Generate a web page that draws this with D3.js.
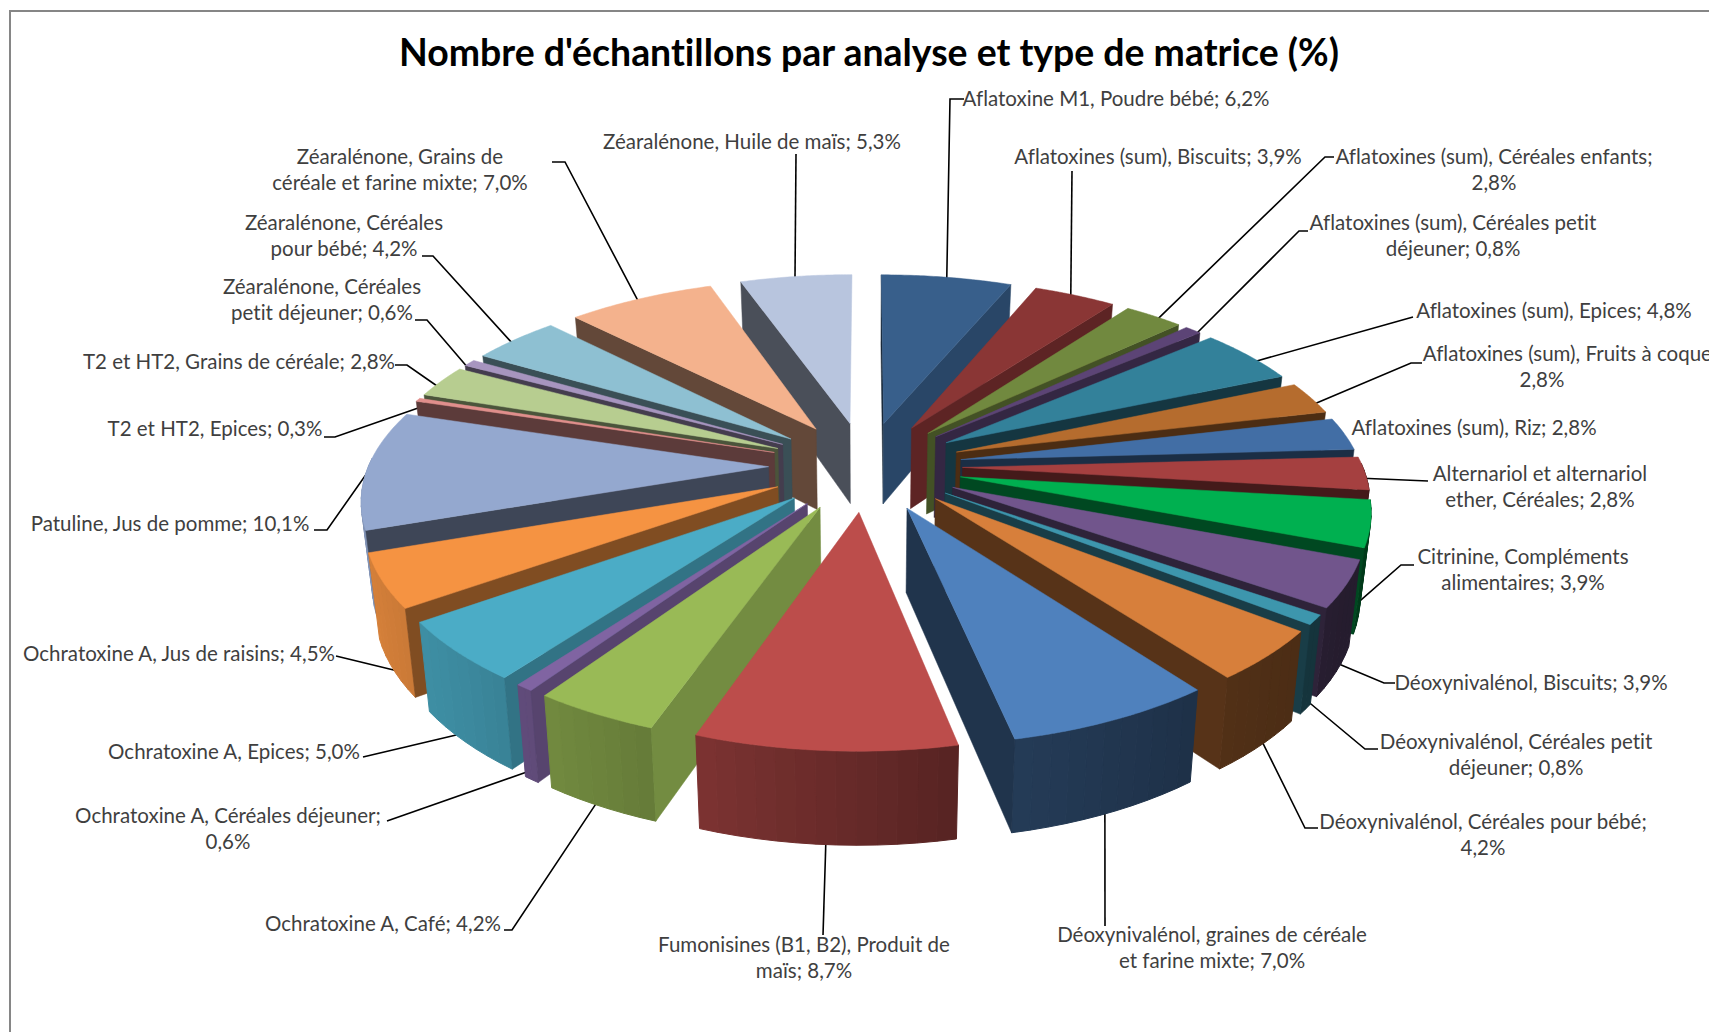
<!DOCTYPE html>
<html>
<head>
<meta charset="utf-8">
<title>Nombre d'échantillons par analyse et type de matrice</title>
<style>
  html, body { margin: 0; background: #fff; overflow: hidden; }
  text { font-family: Lato, "Open Sans", sans-serif; font-variant-ligatures: none; }
</style>
</head>
<body>
<svg width="1709" height="1032"></svg>
<script src="https://d3js.org/d3.v7.min.js"></script>
<script>
var title = "Nombre d'échantillons par analyse et type de matrice (%)";

var categories = [
    "Aflatoxine M1, Poudre bébé", "Aflatoxines (sum), Biscuits", "Aflatoxines (sum), Céréales enfants",
    "Aflatoxines (sum), Céréales petit déjeuner", "Aflatoxines (sum), Epices", "Aflatoxines (sum), Fruits à coque",
    "Aflatoxines (sum), Riz", "Alternariol et alternariol ether, Céréales", "Citrinine, Compléments alimentaires",
    "Déoxynivalénol, Biscuits", "Déoxynivalénol, Céréales petit déjeuner", "Déoxynivalénol, Céréales pour bébé",
    "Déoxynivalénol, graines de céréale et farine mixte", "Fumonisines (B1, B2), Produit de maïs", "Ochratoxine A, Café",
    "Ochratoxine A, Céréales déjeuner", "Ochratoxine A, Epices", "Ochratoxine A, Jus de raisins",
    "Patuline, Jus de pomme", "T2 et HT2, Epices", "T2 et HT2, Grains de céréale",
    "Zéaralénone, Céréales petit déjeuner", "Zéaralénone, Céréales pour bébé", "Zéaralénone, Grains de céréale et farine mixte",
    "Zéaralénone, Huile de maïs"
];
var values = [6.2, 3.9, 2.8, 0.8, 4.8, 2.8, 2.8, 2.8, 3.9, 3.9, 0.8, 4.2, 7.0, 8.7, 4.2, 0.6, 5.0, 4.5, 10.1, 0.3, 2.8, 0.6, 4.2, 7.0, 5.3];
var colors = [
    "#385f8b", "#8a3635", "#71893f", "#5c4476", "#33819a", "#b56c2e", "#426ea5", "#a54040", "#00b050",
    "#71558c", "#3d96ad", "#d77f3b", "#4f81bd", "#bc4d4b", "#99ba56", "#8064a2", "#4bacc6", "#f59342",
    "#94a8cf", "#e08f8c", "#b7cd90", "#a795bf", "#8ec0d2", "#f4b28d", "#b8c5de"
];

// label layout: words on first line (0 = one line), centre x, centre y of first line
var firstLineWords = [0, 0, 4, 4, 0, 5, 0, 3, 2, 0, 3, 4, 4, 5, 0, 4, 0, 0, 0, 0, 0, 2, 2, 3, 0];
var labelX = [1116, 1158, 1494, 1453, 1554, 1542, 1474, 1540, 1523, 1531, 1516, 1483, 1212, 804, 383, 228, 234, 179, 170, 215, 239, 322, 344, 400, 752];
var labelY = [99, 157, 157, 223, 311, 354, 428, 474, 557, 683, 742, 822, 935, 945, 924, 816, 752, 654, 524, 429, 362, 287, 223, 157, 142];
var firstLineDx = [0, 0, 0, 0, 0, 28, 0, 0, 0, 0, 0, 0, 0, 0, 0, 0, 0, 0, 0, 0, 0, 0, 0, 0, 0];
var leaders = [
    [[964, 99], [950, 99]], [[1072, 171]], [[1334, 157], [1325, 157]], [[1308, 231], [1299, 231]], [[1413, 317]],
    [[1422, 363], [1411, 363]], [], [[1428, 481]], [[1414, 565], [1401, 565]], [[1395, 683], [1384, 683]],
    [[1378, 749], [1365, 749]], [[1318, 828], [1305, 828]], [[1105, 926]], [[823, 935]], [[504, 930], [512, 930]],
    [[387, 821]], [[363, 757]], [[336, 656]], [[314, 530], [327, 530]], [[324, 437], [335, 437]],
    [[395, 365], [407, 365]], [[415, 320], [427, 320]], [[422, 256], [433, 256]], [[552, 162], [565, 162]], [[796, 154]]
];
// where along the slice's outer arc the leader lands (0 start, 1 end)
var leaderShare = [0.5, 0.45, 0.5, 0.5, 0.5, 0.5, 0.5, 0.4, 0.5, 0.5, 0.5, 0.5, 0.52, 0.5, 0.5, 0.5, 0.5, 0.3, 0.7, 0.5, 0.5, 0.5, 0.5, 0.5, 0.49];

var svg = d3.select("svg");

// pie geometry and fake perspective (Y > 0 is towards the viewer, z is 0 on top, 1 at the bottom)
var cx = 865.5, cy = 466, radius = 405, explode = 98, persp = 0.00039, perspX = 0.00037, tilt = 0.456, xScale = 0.988;
var thickness = d3.scaleLinear().domain([-100, 500]).range([80, 94]);

function project(X, Y, z) {
    var s = 1 / (1 - persp * Y),
        sx = 1 / (1 - perspX * Y);
    return [cx + xScale * X * sx * (1 - 0.022 * z), cy + tilt * Y * s + z * thickness(Y)];
}

var pie = d3.pie().sort(null).value(function (d) { return d; });
var slices = pie(values).map(function (d, i) {
    var mid = (d.startAngle + d.endAngle) / 2;
    return {
        i: i, value: d.value, start: d.startAngle, end: d.endAngle, mid: mid,
        ox: explode * Math.sin(mid), oy: -explode * Math.cos(mid)
    };
});

function rim(sl, a, z) {
    return project(sl.ox + radius * Math.sin(a), sl.oy - radius * Math.cos(a), z);
}
function apex(sl, z) {
    return project(sl.ox, sl.oy, z);
}

var deg = 180 / Math.PI;
// wall shade as a share of the top colour, by direction the wall faces
var radialShade = d3.scaleLinear().domain([90, 110, 127, 145, 156, 360]).range([0.9, 0.75, 0.67, 0.52, 0.42, 0.38]);
var rimShade = d3.scaleLinear().domain([90, 118, 143, 168, 199, 225, 250, 280]).range([0.33, 0.33, 0.38, 0.46, 0.66, 0.8, 0.87, 0.9]);

function shade(color, f) {
    var c = d3.rgb(color);
    return d3.rgb(c.r * f, c.g * f, c.b * f).formatHex();
}

var line = d3.line();

// frame
svg.append("path")
    .attr("d", "M10,1032V11H1709")
    .attr("fill", "none")
    .attr("stroke", "#868686")
    .attr("stroke-width", 2);

svg.append("text")
    .attr("x", 869)
    .attr("y", 53)
    .attr("dy", ".35em")
    .attr("text-anchor", "middle")
    .attr("font-size", 37.4)
    .attr("font-weight", 700)
    .attr("fill", "#000")
    .text(title);

// leader lines go under the pie, the slices hide their ends
svg.append("g").selectAll("path")
    .data(slices.filter(function (d) { return leaders[d.i].length > 0; }))
    .enter().append("path")
    .attr("d", function (d) {
        var a = d.start + (d.end - d.start) * leaderShare[d.i],
            z = Math.cos(d.mid) > -0.15 ? 0.1 : 0.9;
        return line(leaders[d.i].concat([rim(d, a, z)]));
    })
    .attr("fill", "none")
    .attr("stroke", "#000")
    .attr("stroke-width", 1.6);

// painter's order, back slices first
var order = slices.slice().sort(function (a, b) { return a.oy - b.oy; });

var sliceG = svg.append("g").selectAll("g")
    .data(order)
    .enter().append("g")
    .attr("class", "slice");

sliceG.each(function (d) {
    var g = d3.select(this), base = colors[d.i];

    // outer wall in thin vertical bands
    var n = Math.max(2, Math.ceil((d.end - d.start) * deg / 2.5));
    d3.range(n).forEach(function (k) {
        var a0 = d.start + (d.end - d.start) * k / n,
            a1 = d.start + (d.end - d.start) * (k + 1) / n,
            am = (a0 + a1) / 2;
        if (Math.cos(am) > 0.03) return;
        var col = shade(base, rimShade(am * deg));
        g.append("path")
            .attr("d", line([rim(d, a0, 0), rim(d, a1, 0), rim(d, a1, 1), rim(d, a0, 1)]) + "Z")
            .attr("fill", col)
            .attr("stroke", col)
            .attr("stroke-width", 1);
    });

    // radial walls that face the viewer
    [[d.start, d.start * deg - 90], [d.end, d.end * deg + 90]].forEach(function (w) {
        var normal = (w[1] + 360) % 360;
        if (Math.cos(normal / deg) > 0) return;
        var col = shade(base, radialShade(normal));
        g.append("path")
            .attr("d", line([apex(d, 0), rim(d, w[0], 0), rim(d, w[0], 1), apex(d, 1)]) + "Z")
            .attr("fill", col)
            .attr("stroke", col)
            .attr("stroke-width", 0.5);
    });

    // top face
    var arc = d3.range(41).map(function (k) {
        return rim(d, d.start + (d.end - d.start) * k / 40, 0);
    });
    g.append("path")
        .attr("d", line([apex(d, 0)].concat(arc)) + "Z")
        .attr("fill", base)
        .attr("stroke", base)
        .attr("stroke-width", 0.5);
});

// labels
var labelG = svg.append("g").selectAll("text")
    .data(slices)
    .enter().append("text")
    .attr("text-anchor", "middle")
    .attr("font-size", 20.5)
    .attr("fill", "#3f3f3f");

labelG.each(function (d) {
    var txt = categories[d.i] + "; " + d.value.toFixed(1).replace(".", ",") + "%",
        words = txt.split(" "),
        n = firstLineWords[d.i],
        lines = n ? [words.slice(0, n).join(" "), words.slice(n).join(" ")] : [txt];
    var t = d3.select(this);
    lines.forEach(function (l, j) {
        t.append("tspan")
            .attr("x", labelX[d.i] + (j === 0 ? firstLineDx[d.i] : 0))
            .attr("y", labelY[d.i] + j * 26)
            .attr("dy", ".35em")
            .text(l);
    });
});
</script>
</body>
</html>
